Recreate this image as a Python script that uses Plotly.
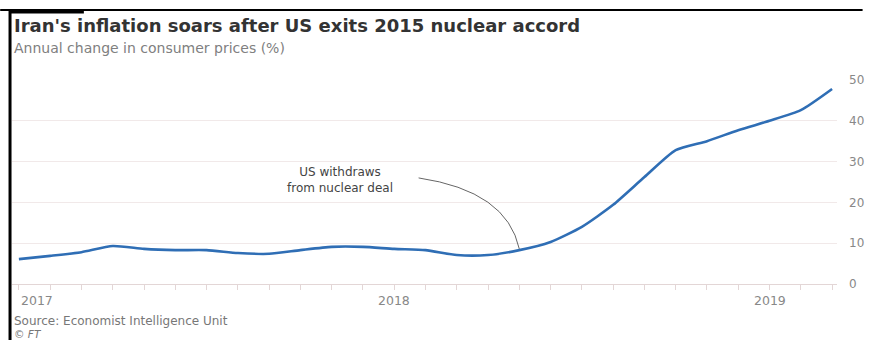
import plotly.graph_objects as go

# Iran consumer price inflation, monthly, Jan 2017 - Mar 2019 (annual % change)
months = ["2017-01", "2017-02", "2017-03", "2017-04", "2017-05", "2017-06",
          "2017-07", "2017-08", "2017-09", "2017-10", "2017-11", "2017-12",
          "2018-01", "2018-02", "2018-03", "2018-04", "2018-05", "2018-06",
          "2018-07", "2018-08", "2018-09", "2018-10", "2018-11", "2018-12",
          "2019-01", "2019-02", "2019-03"]
inflation = [6.1, 6.9, 7.8, 9.3, 8.6, 8.3, 8.3, 7.6, 7.4, 8.3, 9.1, 9.1,
             8.6, 8.3, 7.1, 7.1, 8.3, 10.3, 14.0, 19.4, 26.2, 32.8, 35.0, 37.7,
             40.0, 42.6, 47.8]
year_labels = ["2017", "2018", "2019"]
y_ticks = [0, 10, 20, 30, 40, 50]

idx = list(range(len(months)))
year_idx = [i for i, m in enumerate(months) if m.endswith("-01")]

GRID = "#f1e9e9"
AXIS = "#e3d6d6"
LINE = "#2f6eb5"
FONT = "DejaVu Sans"

W, H = 876, 340
ML, MR, MT, MB = 12, 26, 80, 56
PW, PH = W - ML - MR, H - MT - MB


def px_x(x):
    return (x - ML) / PW


def px_y(y):
    return 1 - (y - MT) / PH


fig = go.Figure()
fig.add_trace(go.Scatter(
    x=idx, y=inflation, mode="lines",
    line=dict(color=LINE, width=2.6, shape="spline", smoothing=0.6),
    hoverinfo="skip", showlegend=False,
))

# withdrawal annotation: event month is May 2018
event = months.index("2018-05")
fig.add_shape(
    type="path", xref="x", yref="y",
    path=f"M 12.78,26 Q 15.6,22.8 {event},{inflation[event] + 0.3}",
    line=dict(color="#666666", width=1),
)
fig.add_annotation(
    x=10.26, y=25.6, xref="x", yref="y",
    text="US withdraws<br>from nuclear deal", showarrow=False,
    font=dict(family=FONT, size=12, color="#444444"),
    align="center", xanchor="center", yanchor="middle",
)

# year labels under the monthly ticks
for i, lab in zip(year_idx, year_labels):
    fig.add_annotation(
        x=i, y=0, xref="x", yref="paper", yshift=-16,
        text=lab, showarrow=False,
        font=dict(family=FONT, size=12.5, color="#888888"),
        xanchor="left" if i == 0 else "center", yanchor="middle",
    )

# title, subtitle, source, credit
texts = [
    ("<b>Iran's inflation soars after US exits 2015 nuclear accord</b>", 25, 18, "#333333"),
    ("Annual change in consumer prices (%)", 48, 14, "#808080"),
    ("Source: Economist Intelligence Unit", 321, 12, "#777777"),
    ("<i>© FT</i>", 334, 10.5, "#777777"),
]
for txt, ypx, size, col in texts:
    fig.add_annotation(
        x=px_x(12), y=px_y(ypx), xref="paper", yref="paper",
        text=txt, showarrow=False,
        font=dict(family=FONT, size=size, color=col),
        xanchor="left", yanchor="middle",
    )

# frame rules: top line with a thicker accent, and the left rule
fig.add_shape(type="line", xref="paper", yref="paper",
              x0=px_x(0), x1=px_x(W), y0=px_y(10), y1=px_y(10),
              line=dict(color="#000000", width=2))
fig.add_shape(type="line", xref="paper", yref="paper",
              x0=px_x(9), x1=px_x(85), y0=px_y(11.5), y1=px_y(11.5),
              line=dict(color="#000000", width=4))
fig.add_shape(type="line", xref="paper", yref="paper",
              x0=px_x(10), x1=px_x(10), y0=px_y(10), y1=px_y(H),
              line=dict(color="#000000", width=3))

x0 = -(19 - ML) / 31.77
x1 = 26 + (850 - 845) / 31.77
fig.update_layout(
    width=W, height=H,
    margin=dict(l=ML, r=MR, t=MT, b=MB),
    paper_bgcolor="white", plot_bgcolor="white",
    xaxis=dict(range=[x0, x1], tickvals=idx, ticktext=[""] * len(idx),
               ticks="outside", ticklen=5, tickcolor=AXIS,
               showline=True, linecolor=AXIS, linewidth=1,
               showgrid=False, zeroline=False, fixedrange=True),
    yaxis=dict(range=[0, 50], tickvals=y_ticks, side="right",
               tickfont=dict(family=FONT, size=12, color="#888888"),
               gridcolor=GRID, gridwidth=1, zeroline=False,
               ticks="", ticklabelstandoff=11, fixedrange=True),
)

fig.write_html("out.html")
